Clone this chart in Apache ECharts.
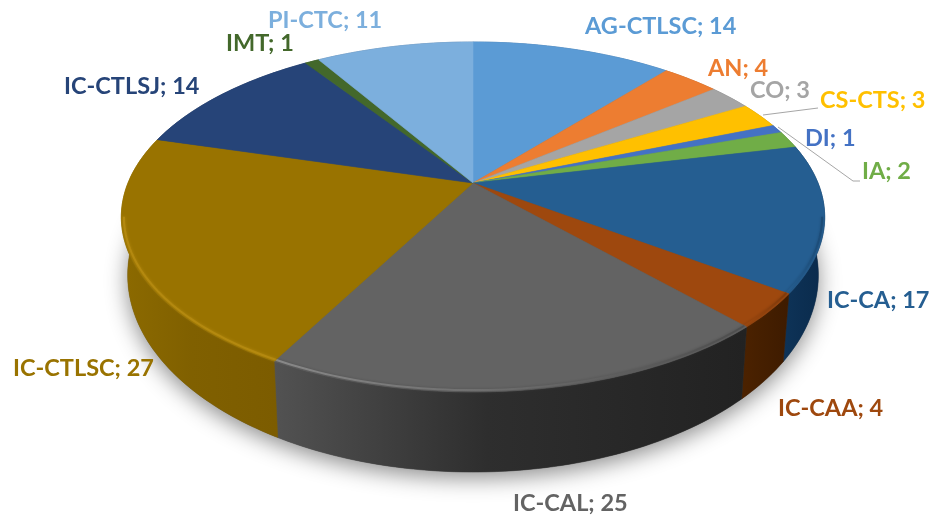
<!DOCTYPE html>
<html><head><meta charset="utf-8">
<style>html,body{margin:0;padding:0;background:#fff}#c{width:936px;height:521px}</style>
<script src="https://cdn.jsdelivr.net/npm/echarts@6/dist/echarts.min.js"></script>
</head><body><div id="c"></div>
<script>
const categories = ['AG-CTLSC','AN','CO','CS-CTS','DI','IA','IC-CA','IC-CAA','IC-CAL','IC-CTLSC','IC-CTLSJ','IMT','PI-CTC'];
const values = [14,4,3,3,1,2,17,4,25,27,14,1,11];
const topColors = ['#5b9bd5','#ed7d31','#a5a5a5','#ffc000','#4472c4','#70ad47','#255e91','#9e480e','#636363','#997300','#264478','#43682b','#7cafdd'];
const wallLeft  = ['#3d6d99','#a85520','#777777','#b38600','#30518a','#4f7a32','#0e3358','#4c2200','#525252','#8c6a00','#1a2f54','#2e481e','#57799a'];
const wallMid   = ['#3d6d99','#a85520','#777777','#b38600','#30518a','#4f7a32','#0c2f52','#451f00','#2e2e2e','#806000','#1a2f54','#2e481e','#57799a'];
const wallRight = ['#3d6d99','#a85520','#777777','#b38600','#30518a','#4f7a32','#0a2a4c','#3e1b00','#222222','#7c5c00','#1a2f54','#2e481e','#57799a'];
const rimLeft  = [null,null,null,null,null,null,'#255e91','#9e480e','#8d8d8d','#b58a10',null,null,null];
const rimRight = [null,null,null,null,null,null,'#1b4a75','#7e390a','#4d4d4d','#b58a10',null,null,null];
// label anchors [left, vertical centre] in pixels
const labelX = [585,708,750,820,805,862,827,778,513,13,64,226,268];
const labelY = [26,68,90,100,138,171,300,408,503,368,86,43,20];
const leaders = [
  [[763,115],[818,108]],
  [[778,127],[853,181],[860,181]]
];

const W = {cx:473, cy:183, k:0.194, a:168.4, b:345, sx:0.982, sy:1.125, dy:54};
const total = values.reduce((s,v)=>s+v,0);
function angles(i){
  let s=0; for(let j=0;j<i;j++) s+=values[j];
  return [s/total*Math.PI*2,(s+values[i])/total*Math.PI*2];
}
function topPt(t,r){
  const u=r*Math.sin(t), v=-r*Math.cos(t), d=1-W.k*v;
  return [W.cx+W.b*u/d, W.cy+W.a*v/d];
}
function botPt(t){
  const p=topPt(t,1);
  return [W.cx+(p[0]-W.cx)*W.sx, W.cy+(p[1]-W.cy)*W.sy+W.dy];
}
function arc(f,a,b){
  const n=Math.max(4,Math.ceil((b-a)/0.02)), o=[];
  for(let i=0;i<=n;i++) o.push(f(a+(b-a)*i/n));
  return o;
}
const chart = echarts.init(document.getElementById('c'),null,{renderer:'canvas'});
const data = categories.map((n,i)=>({name:n,value:values[i]}));
const frontFrom = Math.acos(-W.k), frontTo = Math.PI*2-frontFrom;

function renderBase(){
  const pts=arc(botPt,0,Math.PI*2);
  return {type:'polygon',shape:{points:pts},style:{fill:'#555',shadowBlur:22,shadowColor:'rgba(0,0,0,0.45)',shadowOffsetY:6}};
}
function renderWall(params){
  const i=params.dataIndex,[a,b]=angles(i);
  const top=arc(t=>topPt(t,1),a,b), bot=arc(botPt,a,b).reverse();
  const xs=top.map(p=>p[0]).concat(bot.map(p=>p[0]));
  const x0=Math.min(...xs), x1=Math.max(...xs);
  // gradient runs left to right on screen; the wall goes clockwise, so the end of the arc is on the left
  const fill=new echarts.graphic.LinearGradient(x0,0,x1,0,[
    {offset:0,color:wallLeft[i]},{offset:0.45,color:wallMid[i]},{offset:1,color:wallRight[i]}],true);
  return {type:'polygon',shape:{points:top.concat(bot)},style:{fill:fill,stroke:fill,lineWidth:0.5}};
}
function renderTop(params){
  const i=params.dataIndex,[a,b]=angles(i);
  const pts=[[W.cx,W.cy]].concat(arc(t=>topPt(t,1),a,b));
  const kids=[{type:'polygon',shape:{points:pts},style:{fill:topColors[i],stroke:topColors[i],lineWidth:0.6}}];
  const s=Math.max(a,frontFrom), e=Math.min(b,frontTo);
  if(rimLeft[i] && e>s){
    const line=arc(t=>topPt(t,0.993),s,e);
    const xs=line.map(p=>p[0]);
    const stroke=new echarts.graphic.LinearGradient(Math.min(...xs),0,Math.max(...xs),0,[
      {offset:0,color:rimLeft[i]},{offset:1,color:rimRight[i]}],true);
    kids.push({type:'polyline',shape:{points:line},
      style:{fill:null,stroke:stroke,lineWidth:2,opacity:0.9,shadowBlur:3,shadowColor:rimRight[i]}});
  }
  return {type:'group',children:kids};
}
function renderLabel(params,api){
  const i=params.dataIndex;
  return {type:'text',x:labelX[i],y:labelY[i],style:{
    text:categories[i]+'; '+api.value(0),fill:topColors[i],
    font:'bold 23.5px Lato, "Open Sans", sans-serif',textAlign:'left',textVerticalAlign:'middle'}};
}
function renderLeader(params){
  return {type:'polyline',shape:{points:leaders[params.dataIndex]},style:{fill:null,stroke:'#a6a6a6',lineWidth:1}};
}
chart.setOption({
  animation:false,
  backgroundColor:'#ffffff',
  series:[
    {type:'custom',name:'shadow',coordinateSystem:'none',renderItem:renderBase,data:[1],z:1,silent:true},
    {type:'custom',name:'walls',coordinateSystem:'none',renderItem:renderWall,data:data,z:2,silent:true},
    {type:'custom',name:'slices',coordinateSystem:'none',renderItem:renderTop,data:data,z:3,silent:true},
    {type:'custom',name:'leaders',coordinateSystem:'none',renderItem:renderLeader,data:[0,1],z:4,silent:true},
    {type:'custom',name:'labels',coordinateSystem:'none',renderItem:renderLabel,data:data,z:5,silent:true}
  ]
});
</script></body></html>
